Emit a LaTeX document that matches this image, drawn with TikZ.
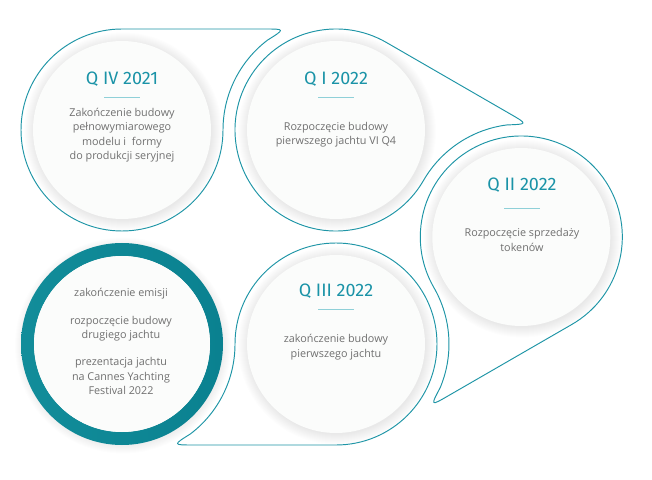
\documentclass[tikz,border=0pt]{standalone}
\usepackage{fontspec}
\setmainfont{Open Sans}
\newfontfamily\headfont{Fira Sans}
\definecolor{outc}{HTML}{1E95A6}
\definecolor{headc}{HTML}{1A93A7}
\definecolor{txtc}{HTML}{707070}
\definecolor{ulc}{HTML}{8FD0D8}
\definecolor{discc}{HTML}{FBFCFB}
\definecolor{ringA}{HTML}{128D9A}
\definecolor{ringB}{HTML}{0A8190}
\newcommand{\drawbubble}[2]{%
  \begin{scope}[shift={(#1)}, rotate=#2]
    \draw[outl] (0,101) arc[start angle=90, end angle=360, radius=101]
      arc[start angle=180, end angle=127.3, radius=113]
      .. controls (163.3,101) .. (142.3,101) -- cycle;
  \end{scope}}
\newcommand{\drawdisc}[1]{%
  \foreach \k in {1,...,11} {\fill[black, fill opacity=0.0065] ($(#1)+(1,-1.5)$) circle[radius=88+\k];}
  \fill[discc] (#1) circle[radius=89];}
\usetikzlibrary{calc}
\begin{document}
\begin{tikzpicture}[x=1pt, y=1pt,
  outl/.style={draw=outc, line width=0.95pt, line join=round},
  head/.style={font=\headfont\fontsize{18}{20}\selectfont, text=headc, inner sep=0pt},
  body/.style={font=\fontsize{10.8}{14.5}\selectfont, text=txtc, align=center, inner sep=0pt},
  uline/.style={draw=ulc, line width=1.4pt}]
\useasboundingbox (0,0) rectangle (652,479);
\fill[white] (0,0) rectangle (652,479);
\coordinate (C1) at (122,349);
\coordinate (C2) at (336,349);
\coordinate (C3) at (521.3,242);
\coordinate (C4) at (336,135);
\coordinate (C5) at (122,135);
% discs with soft shadow
\drawdisc{C1}
\drawdisc{C2}
\drawdisc{C3}
\drawdisc{C4}
% ring
\foreach \k in {1,...,8} {\fill[black, fill opacity=0.008] ($(C5)+(1,-1.5)$) circle[radius=100+\k];}
\shade[left color=ringA, right color=ringB, even odd rule] (C5) circle[radius=101] (C5) circle[radius=88];
\fill[discc] (C5) circle[radius=88];
% bubble outlines
\drawbubble{C1}{0}
\drawbubble{C2}{-30}
\drawbubble{C3}{210}
\drawbubble{C4}{180}
% texts circle 1
\node[head] (h1) at (122,400) {Q IV 2021};
\coordinate (u1a) at (104,381.5); \coordinate (u1b) at (140,381.5);
\draw[uline] (u1a) -- (u1b);
\node[body] (t1) at (122,344) {Zakończenie budowy\\pełnowymiarowego\\modelu i\ \ formy\\do produkcji seryjnej};
% circle 2
\node[head] (h2) at (336,400) {Q I 2022};
\coordinate (u2a) at (318,381.5); \coordinate (u2b) at (354,381.5);
\draw[uline] (u2a) -- (u2b);
\node[body] (t2) at (336,344.3) {Rozpoczęcie budowy\\pierwszego jachtu VI Q4};
% circle 3
\node[head] (h3) at (522,294) {Q II 2022};
\coordinate (u3a) at (504,270.7); \coordinate (u3b) at (540,270.7);
\draw[uline] (u3a) -- (u3b);
\node[body] (t3) at (522,239) {Rozpoczęcie sprzedaży\\tokenów};
% circle 4
\node[head] (h4) at (336,187.5) {Q III 2022};
\coordinate (u4a) at (318,169.7); \coordinate (u4b) at (354,169.7);
\draw[uline] (u4a) -- (u4b);
\node[body] (t4) at (336,132) {zakończenie budowy\\pierwszego jachtu};
% circle 5
\node[body] (t5a) at (121,185) {zakończenie emisji};
\node[body] (t5b) at (121,150.5) {rozpoczęcie budowy\\drugiego jachtu};
\node[body] (t5c) at (121,103) {prezentacja jachtu\\na Cannes Yachting\\Festival 2022};
\end{tikzpicture}
\end{document}
